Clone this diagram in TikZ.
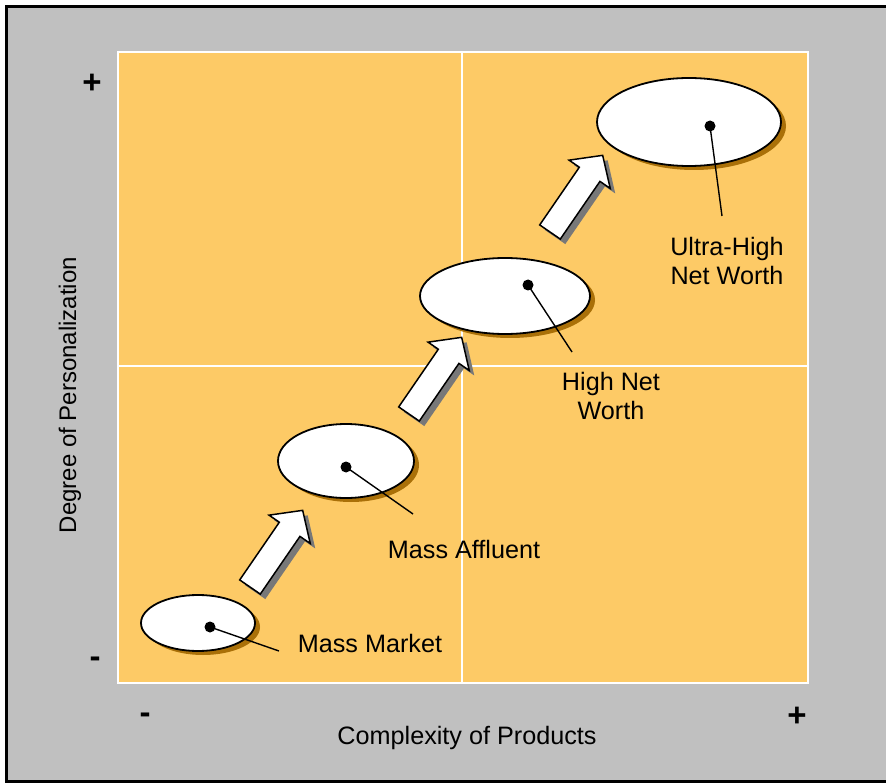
\documentclass[tikz,border=0pt]{standalone}
\usepackage{fontspec}
\setmainfont{Liberation Sans}
\usetikzlibrary{shapes.geometric,shadows}

\definecolor{panel}{RGB}{192,192,192}
\definecolor{gold}{RGB}{253,202,102}
\definecolor{bubbleshade}{RGB}{170,112,8}
\definecolor{arrowshade}{RGB}{120,120,120}

\tikzset{
    bubble/.style={ellipse, draw=black, line width=1.8pt, fill=white, inner sep=0pt,
        drop shadow={shadow xshift=5pt, shadow yshift=-4pt, fill=bubbleshade, opacity=1}},
    pindot/.style={circle, fill=black, inner sep=0pt, minimum size=11pt},
    pinline/.style={line width=1.4pt},
    tag/.style={align=center, inner sep=0pt, font=\fontsize{25.2}{29}\selectfont},
    sign/.style={inner sep=0pt, font=\fontsize{33}{36}\selectfont\bfseries},
    pics/blockarrow/.style={code={
        \path[pic actions] (0,-12.5) -- (70,-12.5) -- (70,-25) -- (93,0)
            -- (70,25) -- (70,12.5) -- (0,12.5) -- cycle;
    }}
}

\begin{document}
\begin{tikzpicture}[x=1pt, y=-1pt]
    \useasboundingbox (0,0) rectangle (886,783);
    \fill[white] (0,0) rectangle (886,783);
    \begin{scope}
        \clip (0,0) rectangle (886,783);
        \draw[line width=3pt, fill=panel] (6,7) rectangle (910,781);
    \end{scope}

    % quadrants
    \draw[white, line width=2.5pt, fill=gold] (118,52) rectangle (808,683);
    \draw[white, line width=2.5pt] (462,52) -- (462,683);
    \draw[white, line width=2.5pt] (118,366) -- (808,366);

    % axes
    \node[tag, rotate=90, font=\fontsize{24}{28}\selectfont] (yaxis) at (70,395) {Degree of Personalization};
    \node[tag] (xaxis) at (467,738) {Complexity of Products};
    \node[sign] (ytop) at (92,84) {+};
    \node[sign] (ybot) at (95,662) {-};
    \node[sign] (xleft) at (145,718) {-};
    \node[sign] (xright) at (797,717) {+};

    % arrows between the segments
    \foreach \tx/\ty in {250/587, 409/414, 550/232} {
        \pic[fill=arrowshade, rotate=55.5] at (\tx+5,\ty+5) {blockarrow};
        \pic[fill=white, draw=black, line width=1.5pt, rotate=55.5] at (\tx,\ty) {blockarrow};
    }

    % client segments
    \node[bubble, minimum width=114pt, minimum height=56pt] (mm) at (198,623) {};
    \node[bubble, minimum width=136pt, minimum height=74pt] (ma) at (346,461) {};
    \node[bubble, minimum width=170pt, minimum height=76pt] (hn) at (505,296) {};
    \node[bubble, minimum width=184pt, minimum height=88pt] (uh) at (689,122) {};

    \node[pindot] (mmdot) at (210,627) {};
    \node[pindot] (madot) at (346,467) {};
    \node[pindot] (hndot) at (528,285) {};
    \node[pindot] (uhdot) at (710,126) {};

    \coordinate (mmend) at (279,651);
    \coordinate (maend) at (413,514);
    \coordinate (hnend) at (572,352);
    \coordinate (uhend) at (722,216);

    \draw[pinline] (mmdot.center) -- (mmend);
    \draw[pinline] (madot.center) -- (maend);
    \draw[pinline] (hndot.center) -- (hnend);
    \draw[pinline] (uhdot.center) -- (uhend);

    \node[tag] (mmlabel) at (370,643) {Mass Market};
    \node[tag] (malabel) at (464,549) {Mass Affluent};
    \node[tag] (hnlabel) at (611,396) {High Net\\Worth};
    \node[tag] (uhlabel) at (727,261) {Ultra-High\\Net Worth};
\end{tikzpicture}
\end{document}
